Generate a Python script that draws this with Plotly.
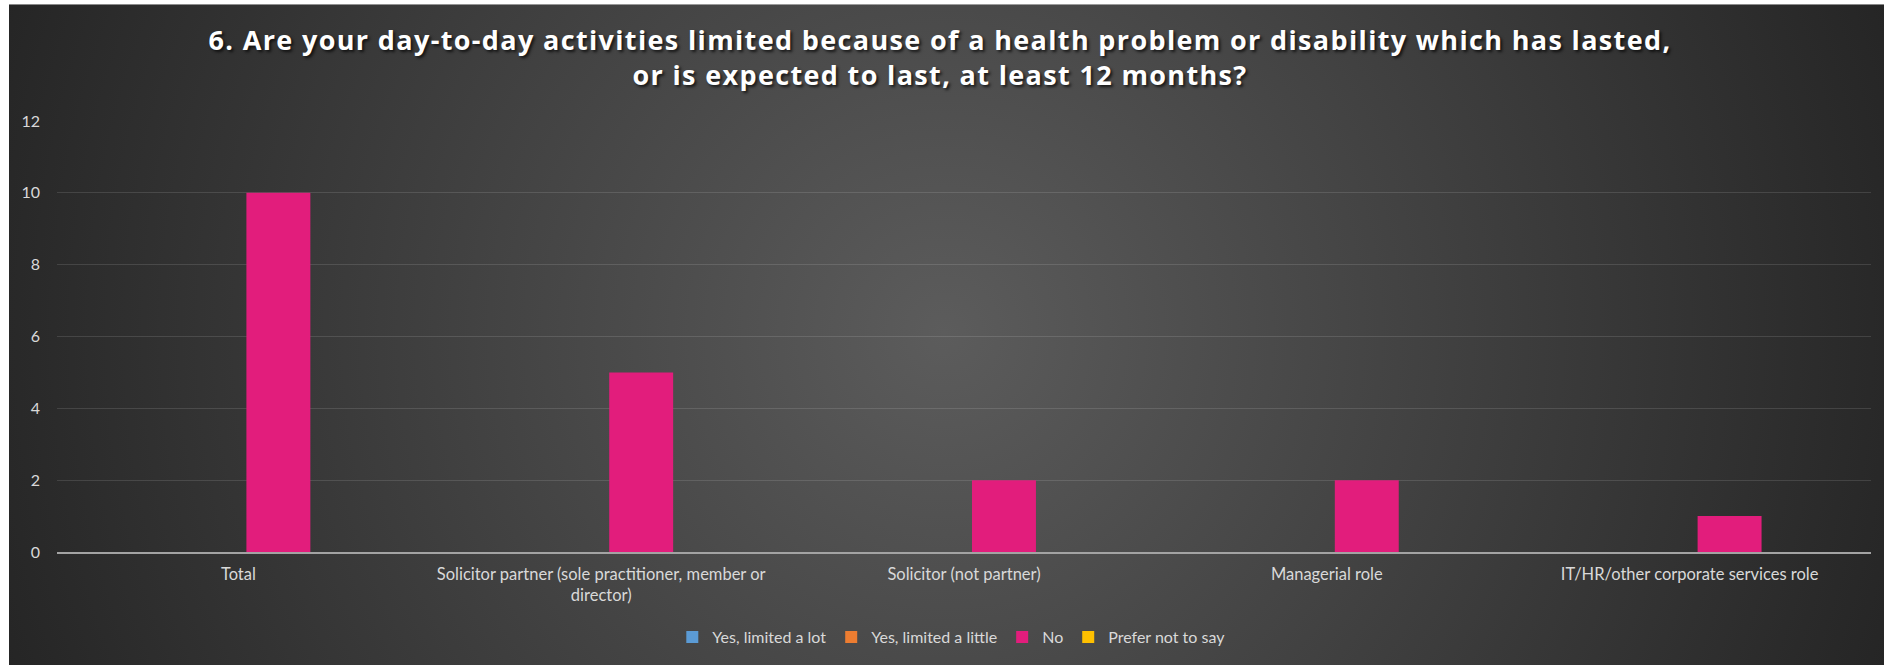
import base64
import plotly.graph_objects as go

categories = [
    "Total",
    "Solicitor partner (sole practitioner, member or<br>director)",
    "Solicitor (not partner)",
    "Managerial role",
    "IT/HR/other corporate services role",
]
series_names = ["Yes, limited a lot", "Yes, limited a little", "No", "Prefer not to say"]
yes_lot = [0, 0, 0, 0, 0]
yes_little = [0, 0, 0, 0, 0]
no_vals = [10, 5, 2, 2, 1]
prefer_not = [0, 0, 0, 0, 0]
series_values = [yes_lot, yes_little, no_vals, prefer_not]
series_colors = ["#5B9BD5", "#ED7D31", "#E21D7C", "#FFC000"]
y_ticks = [0, 2, 4, 6, 8, 10, 12]

W, H = 1884, 665
ML, MR, MT, MB = 57, 13, 121, 112
PW, PH = W - ML - MR, H - MT - MB

BW, BH = 1885, 671
svg = (
    f"<svg xmlns='http://www.w3.org/2000/svg' width='{BW}' height='{BH}' viewBox='0 0 {BW} {BH}'>"
    "<defs><radialGradient id='g' gradientUnits='userSpaceOnUse' cx='935' cy='330' r='1000'>"
    "<stop offset='0' stop-color='#5c5c5c'/><stop offset='1' stop-color='#252525'/>"
    f"</radialGradient></defs><rect width='{BW}' height='{BH}' fill='url(#g)'/></svg>"
)
src = "data:image/svg+xml;base64," + base64.b64encode(svg.encode()).decode()

fig = go.Figure()
for name, vals, col in zip(series_names, series_values, series_colors):
    fig.add_trace(go.Bar(x=categories, y=vals, name=name, marker=dict(color=col, line=dict(width=0))))

fig.update_layout(
    width=W, height=H,
    margin=dict(l=ML, r=MR, t=MT, b=MB, pad=0),
    paper_bgcolor="white",
    plot_bgcolor="rgba(0,0,0,0)",
    barmode="group",
    bargap=0.1185,
    bargroupgap=0.2,
    font=dict(family="Lato", color="#d9d9d9", size=16),
    title=dict(
        text="6. Are your day-to-day activities limited because of a health problem or disability which has lasted,<br>or is expected to last, at least 12 months?",
        x=940 / W, xref="container", xanchor="center",
        y=1 - 50 / H, yref="container", yanchor="middle",
        font=dict(family="Open Sans", size=27, color="white", weight="bold", shadow="2px 2px 3px rgba(0,0,0,0.7)"),
    ),
    legend=dict(
        orientation="h", x=0.493, xanchor="center", y=(553 - 637) / PH, yanchor="middle",
        font=dict(size=16, color="#d9d9d9"), bgcolor="rgba(0,0,0,0)", itemclick=False,
    ),
    showlegend=True,
    images=[dict(
        source=src, xref="paper", yref="paper",
        x=(9 - ML) / PW, y=(553 - 4) / PH, sizex=BW / PW, sizey=BH / PH,
        xanchor="left", yanchor="top", sizing="stretch", layer="below",
    )],
)
fig.update_xaxes(
    showline=True, linecolor="#a3a3a3", linewidth=2, showgrid=False,
    tickfont=dict(size=16.5, color="#d9d9d9"), ticks="", ticklabelstandoff=6,
)
fig.update_yaxes(
    range=[0, 12], tickvals=y_ticks, showgrid=True, gridcolor="rgba(255,255,255,0.12)", gridwidth=1,
    zeroline=False, showline=False, tickfont=dict(size=16, color="#d9d9d9"), ticklabelstandoff=16,
)
fig.write_html(
    "out.html",
    config={"displayModeBar": False},
    post_script=(
        "document.body.style.margin='0';document.body.style.overflow='hidden';"
        "document.querySelectorAll('.gtitle').forEach(function(e){e.style.letterSpacing='1.35px';});"
    ),
)
